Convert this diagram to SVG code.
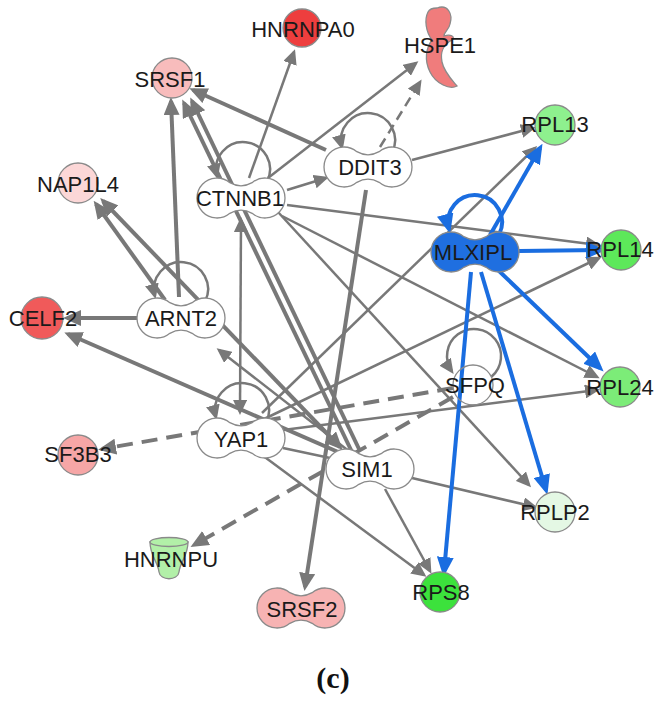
<svg xmlns="http://www.w3.org/2000/svg" width="666" height="704" viewBox="0 0 666 704">
<style>
.e{stroke:#787878;stroke-width:2.5;fill:none}
.t{stroke-width:4}
.d{stroke-dasharray:10 6}
.dt{stroke-dasharray:16 9}
.b{stroke:#1a6de0;stroke-width:4;fill:none}
.ag{marker-end:url(#ag)}
.agl{marker-end:url(#agl)}
.ab{marker-end:url(#ab)}
.n{stroke:#8a8a8a;stroke-width:1.3}
.w{fill:#ffffff}
.lbl{font-family:"Liberation Sans",Arial,sans-serif;font-size:22px;fill:#1a1a1a;text-anchor:middle}
</style>
<defs>
<marker id="ag" markerUnits="userSpaceOnUse" viewBox="0 0 15 14" markerWidth="15" markerHeight="14" refX="12" refY="7" orient="auto-start-reverse"><path d="M0,0 L15,7 L0,14 Z" fill="#787878"/></marker>
<marker id="agl" markerUnits="userSpaceOnUse" viewBox="0 0 18 16" markerWidth="18" markerHeight="16" refX="14" refY="8" orient="auto-start-reverse"><path d="M0,0 L18,8 L0,16 Z" fill="#787878"/></marker>
<marker id="ab" markerUnits="userSpaceOnUse" viewBox="0 0 20 17" markerWidth="20" markerHeight="17" refX="15" refY="8.5" orient="auto"><path d="M0,0 L20,8.5 L0,17 Z" fill="#1a6de0"/></marker>
<path id="pea" d="M-11.14,-15.32 A20,20 0 1 0 -11.14,15.32 Q0,9 11.14,15.32 A20,20 0 1 0 11.14,-15.32 Q0,-9 -11.14,-15.32 Z"/>
</defs>
<rect width="666" height="704" fill="#ffffff"/>
<g id="connectors">
<!-- self loops -->
<path class="e ag" d="M267.1,181.3 A27,27 0 1 0 216.9,176"/>
<path class="e ag" d="M392.1,152.3 A27,27 0 1 0 341.9,147"/>
<path class="e ag" d="M205.1,301.3 A27,27 0 1 0 154.9,296"/>
<path class="e ag" d="M266.1,422.3 A27,27 0 1 0 215.9,417"/>
<path class="e ag" d="M491.4,376.7 A27,27 0 1 0 451.9,371.5"/>
<!-- gray normal -->
<line class="e ag" x1="249" y1="178" x2="294" y2="52"/>
<line class="e ag" x1="268" y1="178" x2="416" y2="63"/>
<line class="e ag" x1="287" y1="190" x2="326" y2="178"/>
<line class="e ag" x1="412" y1="160" x2="533" y2="128"/>
<line class="e ag" x1="287" y1="205" x2="598" y2="245"/>
<line class="e ag" x1="282" y1="216" x2="597" y2="377"/>
<line class="e ag" x1="283" y1="430" x2="597" y2="390"/>
<line class="e ag" x1="262" y1="420" x2="599" y2="258"/>
<line class="e ag" x1="262" y1="413" x2="535" y2="148"/>
<line class="e ag" x1="385" y1="489" x2="430" y2="571"/>
<line class="e ag" x1="262" y1="455" x2="424" y2="575"/>
<line class="e ag" x1="412" y1="478" x2="535" y2="507"/>
<line class="e ag" x1="278" y1="212" x2="529" y2="485"/>
<line class="e" x1="283" y1="448" x2="330" y2="458"/>
<line class="e ag" x1="350" y1="452" x2="219" y2="350"/>
<line class="e ag" x1="240" y1="412" x2="241" y2="220" style="marker-start:url(#ag)"/>
<!-- gray thick -->
<line class="e t agl" x1="326" y1="150" x2="193" y2="90"/>
<line class="e t agl" x1="352" y1="452" x2="184" y2="103"/>
<line class="e t agl" x1="360" y1="451" x2="192" y2="101"/>
<line class="e t agl" x1="179" y1="297" x2="171" y2="101"/>
<line class="e t agl" x1="366" y1="190" x2="305" y2="587"/>
<line class="e t agl" x1="137" y1="318" x2="67" y2="318"/>
<line class="e t agl" x1="345" y1="455" x2="68" y2="334"/>
<line class="e t agl" x1="165" y1="300" x2="96" y2="204"/>
<line class="e t agl" x1="340" y1="447" x2="103" y2="201" style="marker-start:url(#agl)"/>
<!-- dashed -->
<line class="e d ag" x1="380" y1="147" x2="420" y2="82"/>
<line class="e t dt agl" x1="453" y1="388" x2="102" y2="449"/>
<line class="e t dt agl" x1="453" y1="397" x2="194" y2="545"/>
<!-- blue -->
<path class="b ab" d="M499.1,234.3 A27,27 0 1 0 448.9,229"/>
<line class="b ab" x1="490" y1="235" x2="540" y2="148"/>
<line class="b ab" x1="519" y1="251" x2="601" y2="250"/>
<line class="b ab" x1="498" y1="270" x2="600" y2="368"/>
<line class="b ab" x1="481" y1="272" x2="546" y2="490"/>
<line class="b ab" x1="471" y1="272" x2="444" y2="572"/>
</g>
<g id="HNRNPA0"><circle class="n" cx="302" cy="28" r="19" fill="#ee3e3e"/><text class="lbl" x="303" y="37">HNRNPA0</text></g>
<g id="HSPE1"><path class="n" fill="#f07c7c" stroke="#c86a6a" d="M437,8 C448,4 453,14 450,24 C449,30 444,32 444,36 C450,34 456,36 452,40 C444,44 440,52 442,62 C444,72 452,80 457,86 C450,90 436,84 430,72 C424,60 426,48 432,40 C426,32 424,20 428,12 C430,8 434,8 437,8 Z"/><text class="lbl" x="440" y="53">HSPE1</text></g>
<g id="SRSF1"><circle class="n" cx="172" cy="78" r="20" fill="#f8bcbc"/><text class="lbl" x="170" y="87">SRSF1</text></g>
<g id="NAP1L4"><circle class="n" cx="78" cy="183" r="20" fill="#fcd7d7"/><text class="lbl" x="78" y="192">NAP1L4</text></g>
<g id="CTNNB1"><use href="#pea" x="241" y="198" class="n w"/><text class="lbl" x="240" y="206">CTNNB1</text></g>
<g id="DDIT3"><use href="#pea" x="368" y="167" class="n w"/><text class="lbl" x="370" y="175">DDIT3</text></g>
<g id="RPL13"><circle class="n" cx="555" cy="125" r="20" fill="#8ef08e"/><text class="lbl" x="555" y="132">RPL13</text></g>
<g id="MLXIPL"><use href="#pea" x="475" y="252" class="n" fill="#1f6fe0" stroke="#1a55b0"/><text class="lbl" x="473" y="260">MLXIPL</text></g>
<g id="RPL14"><circle class="n" cx="621" cy="250" r="20" fill="#5de85a"/><text class="lbl" x="620" y="257">RPL14</text></g>
<g id="ARNT2"><use href="#pea" x="181" y="318" class="n w"/><text class="lbl" x="181" y="326">ARNT2</text></g>
<g id="CELF2"><circle class="n" cx="42" cy="318" r="21" fill="#f05a5a"/><text class="lbl" x="43" y="326">CELF2</text></g>
<g id="SFPQ"><circle class="n" cx="473" cy="385" r="20" fill="none"/><text class="lbl" x="475" y="393">SFPQ</text></g>
<g id="RPL24"><circle class="n" cx="620" cy="387" r="20" fill="#7cec78"/><text class="lbl" x="620" y="395">RPL24</text></g>
<g id="YAP1"><use href="#pea" x="241" y="438" class="n w"/><text class="lbl" x="241" y="447">YAP1</text></g>
<g id="SIM1"><use href="#pea" x="370" y="469" class="n w"/><text class="lbl" x="367" y="477">SIM1</text></g>
<g id="SF3B3"><circle class="n" cx="78" cy="455" r="20" fill="#f6a6a6"/><text class="lbl" x="78" y="462">SF3B3</text></g>
<g id="HNRNPU"><path class="n" fill="#b2f0a8" stroke="#7aa872" d="M150,542 C150,556 158,562 159,572 C160,581 178,581 179,572 C180,562 188,556 188,542 Z"/><ellipse class="n" cx="169" cy="542" rx="19" ry="4.5" fill="#b2f0a8" stroke="#7aa872"/><text class="lbl" x="171" y="567">HNRNPU</text></g>
<g id="SRSF2"><use href="#pea" x="301" y="608" class="n" fill="#f7b3b3"/><text class="lbl" x="302" y="617">SRSF2</text></g>
<g id="RPLP2"><circle class="n" cx="555" cy="512" r="20" fill="#e4f8e4"/><text class="lbl" x="555" y="520">RPLP2</text></g>
<g id="RPS8"><circle class="n" cx="440" cy="592" r="20" fill="#3ce23c"/><text class="lbl" x="441" y="600">RPS8</text></g>
<text x="333" y="688" font-family="'Liberation Serif','Times New Roman',serif" font-size="30" font-weight="bold" text-anchor="middle" fill="#111">(c)</text>
</svg>
